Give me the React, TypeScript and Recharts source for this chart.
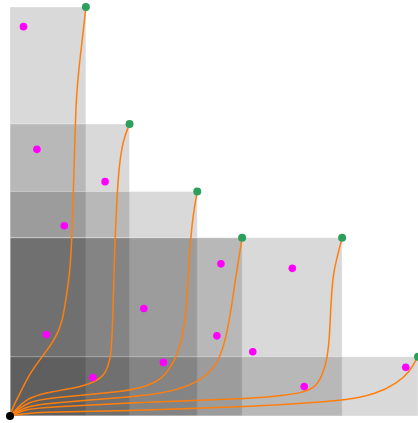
import {
  ComposedChart,
  Line,
  ReferenceArea,
  Scatter,
  XAxis,
  YAxis,
} from "recharts";

// corner of each box (top-right), the box runs from the origin to it
const corners = [
  { x: 18.6, y: 100.0 },
  { x: 29.3, y: 71.4 },
  { x: 45.9, y: 54.9 },
  { x: 56.9, y: 43.6 },
  { x: 81.4, y: 43.6 },
  { x: 100.0, y: 14.5 },
];

const samples = [
  { x: 3.3, y: 95.2 },
  { x: 6.6, y: 65.2 },
  { x: 23.3, y: 57.3 },
  { x: 13.3, y: 46.5 },
  { x: 51.7, y: 37.2 },
  { x: 69.2, y: 36.1 },
  { x: 32.8, y: 26.3 },
  { x: 8.9, y: 19.9 },
  { x: 50.7, y: 19.6 },
  { x: 59.5, y: 15.7 },
  { x: 37.6, y: 13.1 },
  { x: 20.3, y: 9.4 },
  { x: 72.1, y: 7.2 },
  { x: 97.0, y: 11.9 },
];

const origin = [{ x: 0, y: 0 }];

// paths from the origin to each corner
const pathA = [
  { x: 0, y: 0 },
  { x: 0.7, y: 2.2 },
  { x: 2.9, y: 6.4 },
  { x: 4.9, y: 10.5 },
  { x: 7.8, y: 14.4 },
  { x: 11.0, y: 18.6 },
  { x: 12.7, y: 22.7 },
  { x: 13.5, y: 27.1 },
  { x: 14.7, y: 35.0 },
  { x: 15.2, y: 43.5 },
  { x: 15.9, y: 67.5 },
  { x: 16.2, y: 77.3 },
  { x: 16.9, y: 85.3 },
  { x: 17.9, y: 93.6 },
  { x: 18.6, y: 100.0 },
];

const pathB = [
  { x: 0, y: 0 },
  { x: 4.2, y: 4.6 },
  { x: 9.8, y: 5.9 },
  { x: 17.9, y: 7.1 },
  { x: 22.8, y: 9.3 },
  { x: 24.0, y: 12.0 },
  { x: 24.8, y: 14.9 },
  { x: 25.2, y: 23.5 },
  { x: 25.7, y: 43.0 },
  { x: 26.2, y: 52.8 },
  { x: 26.7, y: 60.9 },
  { x: 27.7, y: 67.5 },
  { x: 29.3, y: 71.4 },
];

const pathC = [
  { x: 0, y: 0 },
  { x: 4.2, y: 3.5 },
  { x: 9.8, y: 4.4 },
  { x: 27.0, y: 5.9 },
  { x: 31.9, y: 6.8 },
  { x: 37.5, y: 8.8 },
  { x: 40.9, y: 14.4 },
  { x: 42.4, y: 19.8 },
  { x: 43.3, y: 26.7 },
  { x: 43.7, y: 35.0 },
  { x: 44.1, y: 41.3 },
  { x: 44.9, y: 49.6 },
  { x: 45.9, y: 54.9 },
];

const pathD = [
  { x: 0, y: 0 },
  { x: 4.2, y: 2.5 },
  { x: 9.8, y: 3.1 },
  { x: 27.0, y: 4.5 },
  { x: 31.9, y: 4.9 },
  { x: 39.2, y: 5.9 },
  { x: 45.8, y: 8.0 },
  { x: 50.7, y: 12.1 },
  { x: 52.9, y: 18.6 },
  { x: 54.3, y: 26.7 },
  { x: 55.5, y: 35.2 },
  { x: 56.9, y: 43.6 },
];

const pathE = [
  { x: 0, y: 0 },
  { x: 4.2, y: 1.8 },
  { x: 9.8, y: 2.2 },
  { x: 27.0, y: 3.1 },
  { x: 58.8, y: 4.3 },
  { x: 63.7, y: 4.7 },
  { x: 71.8, y: 5.6 },
  { x: 75.5, y: 7.2 },
  { x: 77.6, y: 12.9 },
  { x: 78.3, y: 18.6 },
  { x: 78.6, y: 26.7 },
  { x: 79.2, y: 35.0 },
  { x: 80.2, y: 38.9 },
  { x: 81.4, y: 43.6 },
];

const pathF = [
  { x: 0, y: 0 },
  { x: 4.2, y: 0.7 },
  { x: 9.8, y: 1.0 },
  { x: 27.0, y: 1.2 },
  { x: 58.8, y: 2.3 },
  { x: 71.1, y: 3.1 },
  { x: 81.7, y: 3.7 },
  { x: 89.9, y: 5.4 },
  { x: 94.8, y: 8.0 },
  { x: 98.0, y: 10.8 },
  { x: 100.0, y: 14.5 },
];

const paths = [pathA, pathB, pathC, pathD, pathE, pathF];

const dotShape = (color: string, r: number) => (props: any) =>
  <circle cx={props.cx} cy={props.cy} r={r} fill={color} />;

export default function App() {
  return (
    <div style={{ position: "absolute", left: 0, top: 0 }}>
      <ComposedChart
        width={420}
        height={423}
        margin={{ top: 7, right: 2, bottom: 7, left: 10 }}
      >
        <XAxis type="number" dataKey="x" domain={[0, 100]} hide />
        <YAxis type="number" dataKey="y" domain={[0, 100]} hide />
        {corners.map((c, i) => (
          <ReferenceArea
            key={"box" + i}
            x1={0}
            x2={c.x}
            y1={0}
            y2={c.y}
            fill="#000"
            fillOpacity={0.15}
            stroke="#fff"
            strokeOpacity={0.35}
            ifOverflow="visible"
          />
        ))}
        {paths.map((p, i) => (
          <Line
            key={"path" + i}
            data={p}
            dataKey="y"
            type="basis"
            stroke="#ff7f0e"
            strokeWidth={1.5}
            dot={false}
            activeDot={false}
            isAnimationActive={false}
          />
        ))}
        <Scatter
          data={samples}
          shape={dotShape("#ff00ff", 3.8)}
          isAnimationActive={false}
        />
        <Scatter
          data={corners}
          shape={dotShape("#2ca05a", 4)}
          isAnimationActive={false}
        />
        <Scatter
          data={origin}
          shape={dotShape("#000", 4)}
          isAnimationActive={false}
        />
      </ComposedChart>
    </div>
  );
}
